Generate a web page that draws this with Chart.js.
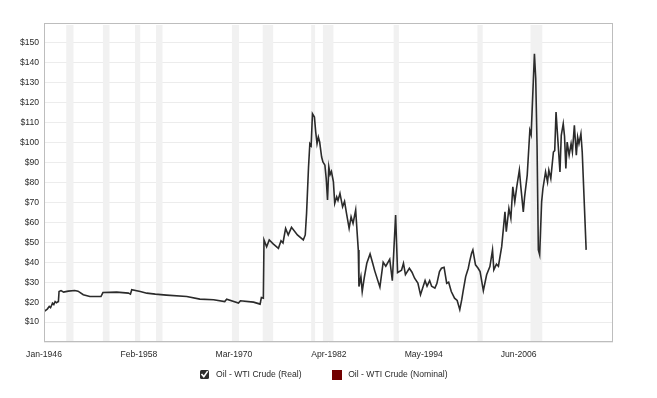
<!DOCTYPE html>
<html>
<head>
<meta charset="utf-8">
<script src="https://cdn.jsdelivr.net/npm/chart.js@4.4.0/dist/chart.umd.min.js"></script>
<style>
html,body{margin:0;padding:0;background:#fff;}
#wrap{width:657px;height:398px;position:relative;}
</style>
</head>
<body>
<div id="wrap"><canvas id="c" width="657" height="398"></canvas></div>
<script>
// ---- data ----
const dates = [
"1946-01","1946-06","1946-09","1946-11","1947-02","1947-04","1947-06","1947-08","1947-11","1947-12",
"1948-03","1948-07","1949-02","1949-12","1950-05","1951-01","1951-11","1953-04","1953-07","1955-04",
"1956-10","1957-01","1957-03","1958-04","1959-02","1960-03","1961-08","1964-03","1965-11","1967-08",
"1969-01","1969-04","1970-10","1971-01","1972-09","1973-07","1973-09","1973-12","1974-01","1974-05",
"1974-09","1975-03","1975-11","1976-03","1976-06","1976-10","1977-02","1977-07","1978-04","1979-01",
"1979-04","1979-06","1979-09","1979-11","1980-01","1980-03","1980-06","1980-08","1980-10","1980-12",
"1981-02","1981-05","1981-07","1981-10","1981-12","1982-02","1982-04","1982-06","1982-08","1982-11",
"1983-01","1983-04","1983-06","1983-09","1984-01","1984-04","1984-07","1984-11","1985-02","1985-05",
"1985-09","1985-11","1986-01","1986-02","1986-05","1986-07","1986-10","1987-02","1987-07","1987-11",
"1988-02","1988-10","1989-03","1989-07","1990-01","1990-05","1990-10","1991-01","1991-07","1991-10",
"1992-01","1992-07","1992-11","1993-03","1993-08","1993-12","1994-07","1994-10","1995-02","1995-05",
"1995-10","1996-01","1996-05","1996-08","1996-12","1997-04","1997-07","1997-11","1998-04","1998-08",
"1998-12","1999-03","1999-05","1999-09","2000-01","2000-03","2000-06","2000-08","2000-12","2001-04",
"2001-07","2001-12","2002-05","2002-10","2003-02","2003-04","2003-08","2003-11","2004-04","2004-09",
"2004-11","2005-03","2005-06","2005-09","2005-12","2006-03","2006-07","2006-09","2007-01","2007-03",
"2007-07","2007-11","2008-01","2008-06","2008-08","2008-10","2008-12","2009-02","2009-05","2009-07",
"2009-11","2010-02","2010-04","2010-07","2010-11","2011-01","2011-03","2011-06","2011-09","2011-11",
"2012-02","2012-04","2012-06","2012-08","2012-11","2013-02","2013-04","2013-07","2013-10","2013-12",
"2014-02","2014-05","2014-07","2015-01"
];
const realPrices = [
15.3,16.5,17.8,17.2,19.5,18.8,20.3,19.7,20.3,25.3,
25.8,25.0,25.5,25.8,25.5,23.7,22.8,22.8,24.8,25.0,
24.5,24.0,26.2,25.3,24.5,24.0,23.5,22.8,21.5,21.2,
20.3,21.5,19.5,20.7,20.0,19.0,22.3,22.0,51.2,47.8,
51.2,49.2,47.0,50.8,49.7,57.0,53.7,57.5,53.7,51.2,
53.7,64.5,87.8,99.5,98.5,114.5,112.8,105.3,99.5,102.8,
100.3,92.8,90.3,88.7,82.0,71.2,87.8,84.0,85.5,80.3,
69.5,72.8,71.0,74.5,67.8,70.5,64.5,57.0,62.8,59.5,
66.2,56.0,46.2,27.8,32.8,25.3,32.0,39.5,44.2,39.5,
35.8,27.5,40.0,38.0,41.5,30.8,63.7,34.8,36.0,39.5,
33.8,37.0,35.0,32.0,29.5,23.7,30.8,28.0,30.8,28.0,
27.0,29.3,35.3,37.0,37.5,29.5,30.0,25.3,22.0,20.8,
16.2,21.2,25.3,32.8,37.0,40.3,44.5,46.2,38.7,37.0,
35.3,25.7,33.7,37.8,46.2,36.2,39.0,38.0,47.8,65.3,
55.3,67.0,62.0,77.8,70.3,77.8,86.2,78.7,65.3,72.8,
83.7,106.2,104.0,144.5,132.0,98.7,46.2,43.7,70.3,77.0,
85.3,80.3,86.2,82.0,95.3,96.0,115.3,100.3,85.3,103.7,
109.5,103.0,87.0,100.3,93.7,99.5,95.3,108.7,93.7,102.8,
99.5,104.5,95.3,46.2
];
const recessions = [
["1948-11","1949-10"],["1953-07","1954-05"],["1957-08","1958-04"],["1960-04","1961-02"],
["1969-12","1970-11"],["1973-11","1975-03"],["1980-01","1980-07"],["1981-07","1982-11"],
["1990-07","1991-03"],["2001-03","2001-11"],["2007-12","2009-06"]
];
const tickDates = ["1946-01","1958-02","1970-03","1982-04","1994-05","2006-06"];
const axisStart = "1946-01";
const axisEnd = "2018-06";
const yMin = 0, yMax = 160, yStep = 10;
const legendLabels = ["Oil - WTI Crude (Real)", "Oil - WTI Crude (Nominal)"];
const legendColors = ["#2e2e2e", "#720000"];

// ---- helpers ----
const MONTHS = ["Jan","Feb","Mar","Apr","May","Jun","Jul","Aug","Sep","Oct","Nov","Dec"];
function monthIndex(d){ const [y,m] = d.split("-").map(Number); return (y-1946)*12 + (m-1); }
function monthLabel(i){ const y = 1946 + Math.floor(i/12); const m = ((i%12)+12)%12; return MONTHS[m] + "-" + y; }

const FONT = "'Liberation Sans', Arial, Helvetica, sans-serif";
const TEXT = '#2a2a2a';
const points = dates.map((d,i)=>({x: monthIndex(d), y: realPrices[i]}));

const recessionPlugin = {
  id: 'recessions',
  beforeDatasetsDraw(chart){
    const {ctx, chartArea, scales:{x}} = chart;
    ctx.save();
    ctx.fillStyle = '#f1f1f1';
    recessions.forEach(([s,e])=>{
      const x0 = x.getPixelForValue(monthIndex(s));
      const x1 = x.getPixelForValue(monthIndex(e));
      ctx.fillRect(x0, chartArea.top + 2, x1 - x0, chartArea.bottom - chartArea.top - 3);
    });
    ctx.restore();
  }
};

const framePlugin = {
  id: 'frame',
  afterDatasetsDraw(chart){
    const {ctx, chartArea:a} = chart;
    ctx.save();
    ctx.strokeStyle = '#bdbdbd';
    ctx.lineWidth = 1;
    ctx.strokeRect(Math.round(a.left)+0.5, Math.round(a.top)+0.5, Math.round(a.right-a.left)-1, Math.round(a.bottom-a.top)-1);
    ctx.restore();
  }
};

function makeCheckbox(){
  const c = document.createElement('canvas'); c.width = 9; c.height = 9;
  const g = c.getContext('2d');
  g.fillStyle = legendColors[0];
  g.beginPath();
  if (g.roundRect) g.roundRect(0,0,9,9,1.5); else g.rect(0,0,9,9);
  g.fill();
  g.strokeStyle = '#ffffff'; g.lineWidth = 1.6; g.lineCap = 'square';
  g.beginPath(); g.moveTo(2.0,4.6); g.lineTo(3.8,6.6); g.lineTo(7.2,1.8); g.stroke();
  return c;
}

const legendPlugin = {
  id: 'customLegend',
  afterDraw(chart){
    const {ctx} = chart;
    ctx.save();
    ctx.font = "8.6px " + FONT;
    ctx.textBaseline = 'middle';
    ctx.fillStyle = TEXT;
    const cy = 374.7;
    const box = makeCheckbox();
    const w0 = ctx.measureText(legendLabels[0]).width;
    const w1 = ctx.measureText(legendLabels[1]).width;
    const gap = 30, sym = 16.6;
    const total = sym + w0 + gap + sym + w1;
    let x = (chart.chartArea.left + chart.chartArea.right)/2 - 5 - total/2;
    ctx.drawImage(box, Math.round(x), Math.round(cy - 4.5));
    ctx.fillText(legendLabels[0], x + sym, cy);
    x += sym + w0 + gap;
    ctx.fillStyle = legendColors[1];
    ctx.fillRect(Math.round(x), Math.round(cy - 5), 10, 10);
    ctx.fillStyle = TEXT;
    ctx.fillText(legendLabels[1], x + sym, cy);
    ctx.restore();
  }
};

Chart.defaults.font.family = FONT;
Chart.defaults.font.size = 8.6;
Chart.defaults.color = TEXT;

new Chart(document.getElementById('c'), {
  type: 'line',
  data: {
    datasets: [{
      label: legendLabels[0],
      data: points,
      borderColor: '#2b2b2b',
      borderWidth: 1.6,
      pointRadius: 0,
      tension: 0,
      fill: false
    }]
  },
  options: {
    responsive: false,
    devicePixelRatio: 1,
    animation: false,
    layout: { padding: { top: 23, right: 44, left: 0, bottom: 0 } },
    plugins: { legend: { display: false }, tooltip: { enabled: false } },
    scales: {
      x: {
        type: 'linear',
        min: monthIndex(axisStart),
        max: monthIndex(axisEnd),
        grid: { display: false, drawTicks: false },
        border: { display: false },
        afterBuildTicks(scale){ scale.ticks = tickDates.map(d=>({value: monthIndex(d)})); },
        afterFit(scale){ scale.height = 398 - 342; },
        ticks: {
          autoSkip: false, maxRotation: 0, padding: 7,
          callback: (v)=> monthLabel(v)
        }
      },
      y: {
        min: yMin, max: yMax,
        grid: { color: '#ececec', drawTicks: false },
        border: { display: false },
        afterFit(scale){ scale.width = 44; },
        ticks: {
          stepSize: yStep, padding: 5,
          callback: (v)=> (v === yMin || v === yMax) ? '' : '$' + v
        }
      }
    }
  },
  plugins: [recessionPlugin, framePlugin, legendPlugin]
});
</script>
</body>
</html>
